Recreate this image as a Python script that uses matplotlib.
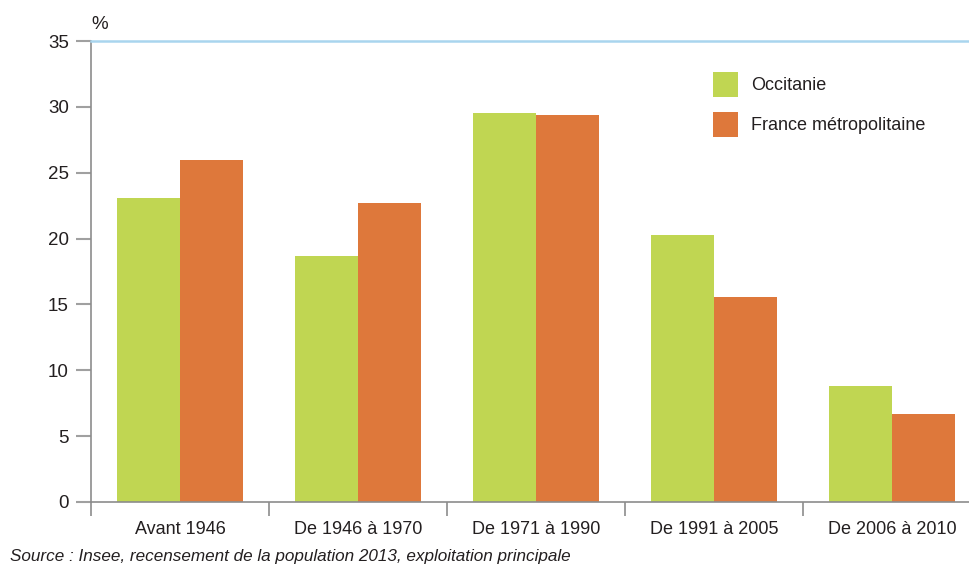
import matplotlib
matplotlib.use("Agg")
import matplotlib.pyplot as plt
import numpy as np

plt.rcParams['font.family'] = ['Liberation Sans', 'DejaVu Sans']

categories = ["Avant 1946", "De 1946 à 1970", "De 1971 à 1990", "De 1991 à 2005", "De 2006 à 2010"]
occitanie = [23.1, 18.7, 29.5, 20.3, 8.8]
france = [26.0, 22.7, 29.4, 15.6, 6.7]
series_names = ["Occitanie", "France métropolitaine"]
yticks = [0, 5, 10, 15, 20, 25, 30, 35]

GREEN = "#C0D652"
ORANGE = "#DE783B"
GRAY = "#8C8C8C"
TXT = "#231F20"

W, H = 970, 568
fig = plt.figure(figsize=(W / 100, H / 100), dpi=100)
ax = fig.add_axes([91 / W, 66 / H, 890 / W, 461 / H])

x = np.arange(len(categories))
bw = 0.352
ax.bar(x - bw / 2, occitanie, bw, color=GREEN, label=series_names[0], linewidth=0)
ax.bar(x + bw / 2, france, bw, color=ORANGE, label=series_names[1], linewidth=0)

ax.set_xlim(-0.5, len(categories) - 0.5)
ax.set_ylim(0, 35)

ax.spines["right"].set_visible(False)
ax.spines["top"].set_color("#A9D5EE")
ax.spines["top"].set_linewidth(1.8)
ax.spines["left"].set_color(GRAY)
ax.spines["left"].set_linewidth(1.2)
ax.spines["bottom"].set_color(GRAY)
ax.spines["bottom"].set_linewidth(1.2)

ax.set_yticks(yticks)
ax.set_yticklabels([str(v) for v in yticks], fontsize=13.5, color=TXT)
ax.tick_params(axis="y", length=11, width=1.5, color="#A0A0A0", pad=5)

ax.set_xticks(np.arange(-0.5, len(categories)), labels=[""] * (len(categories) + 1))
ax.tick_params(axis="x", which="major", length=10, width=1.2, color=GRAY)
ax.set_xticks(x, labels=categories, minor=True)
ax.tick_params(axis="x", which="minor", length=0, labelsize=13, labelcolor=TXT, pad=14)

ax.text(0.0, 1.018, "%", transform=ax.transAxes, fontsize=13.5, color=TXT, ha="left", va="bottom")

leg = ax.legend(loc="upper left", bbox_to_anchor=(704 / W, 1 - 63 / H), bbox_transform=fig.transFigure,
                frameon=False, borderpad=0, fontsize=13, handlelength=1.4, handleheight=1.75,
                handletextpad=0.7, labelspacing=0.83)
for t in leg.get_texts():
    t.set_color(TXT)

fig.text(10 / W, 1 - 556 / H, "Source : Insee, recensement de la population 2013, exploitation principale",
         fontsize=12.3, style="italic", color=TXT, ha="left", va="center")

fig.savefig("out.png", dpi=100)
